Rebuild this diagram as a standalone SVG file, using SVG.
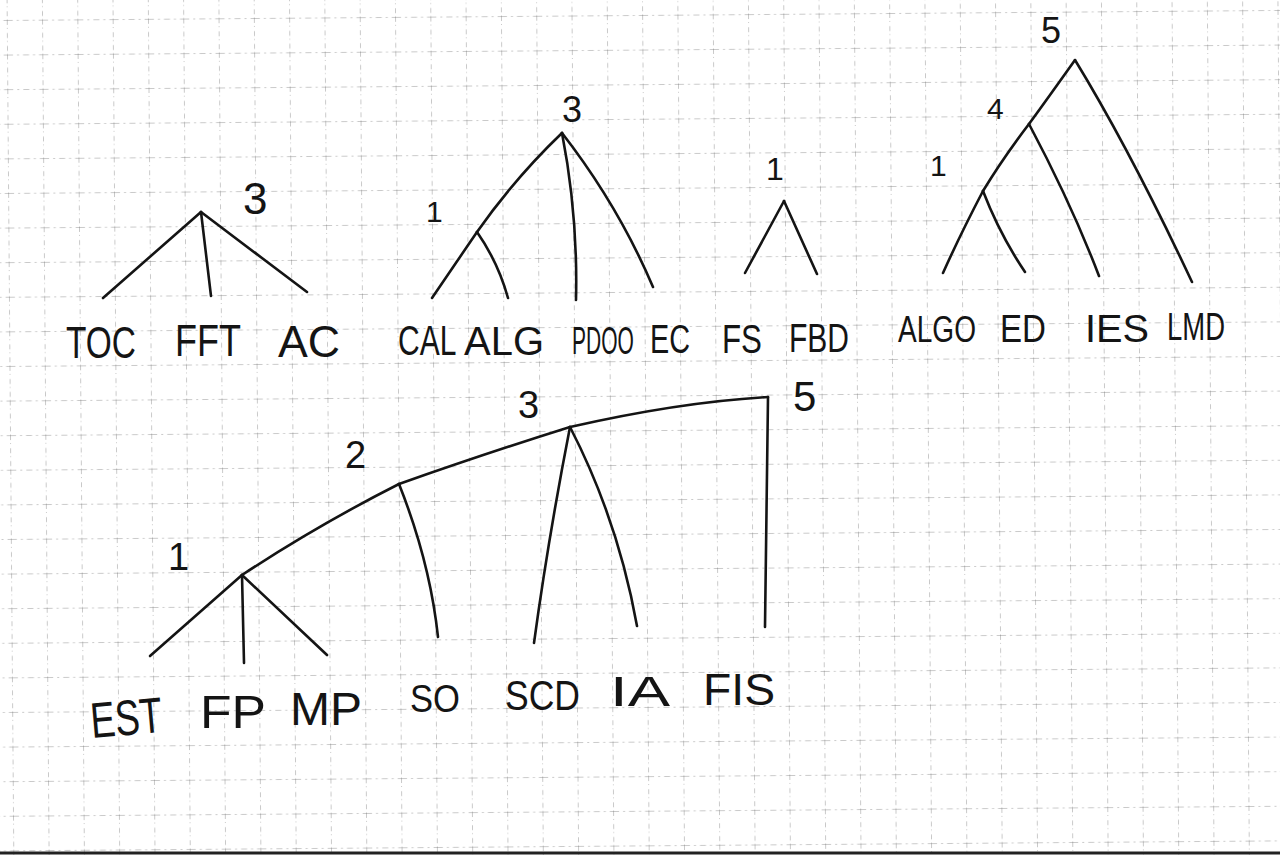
<svg xmlns="http://www.w3.org/2000/svg" width="1280" height="855" viewBox="0 0 1280 855">
  <defs>
    <pattern id="grid" patternUnits="userSpaceOnUse" x="10" y="15" width="35.3" height="34.6" patternTransform="rotate(-0.45 640 430)">
      <line x1="0" y1="0" x2="35.3" y2="0" stroke="#6e6e6e" stroke-width="1" stroke-dasharray="6 4 2 4" opacity="0.75"/>
      <line x1="0" y1="0" x2="0" y2="34.6" stroke="#6e6e6e" stroke-width="1" stroke-dasharray="5 3 1 4" opacity="0.75"/>
    </pattern>
    <style>
      .lbl { font-family: "Liberation Sans", "DejaVu Sans", sans-serif; fill: #141414; }
      .num { font-family: "Liberation Sans", "DejaVu Sans", sans-serif; fill: #141414; }
      .edge { fill: none; stroke: #141414; stroke-width: 2.6; stroke-linecap: round; stroke-linejoin: round; }
    </style>
  </defs>
  <rect width="1280" height="855" fill="#ffffff"/>
  <rect width="1280" height="855" fill="url(#grid)"/>
  <line x1="0" y1="853" x2="1280" y2="853" stroke="#222" stroke-width="3"/>

  <g id="connectors">
    <!-- tree 1 -->
    <path class="edge" d="M201 212 L103 298"/>
    <path class="edge" d="M201 212 L211 296"/>
    <path class="edge" d="M201 212 L307 292"/>
    <!-- tree 2 -->
    <path class="edge" d="M562 133 Q515 178 477 232"/>
    <path class="edge" d="M477 232 L432 298"/>
    <path class="edge" d="M477 232 Q498 262 508 298"/>
    <path class="edge" d="M562 133 Q578 215 576 300"/>
    <path class="edge" d="M562 133 Q618 205 653 287"/>
    <!-- tree 3 -->
    <path class="edge" d="M784 201 L745 273"/>
    <path class="edge" d="M784 201 L817 274"/>
    <!-- tree 4 -->
    <path class="edge" d="M1075 60 Q1048 98 1029 124"/>
    <path class="edge" d="M1029 124 Q1003 158 983 191"/>
    <path class="edge" d="M983 191 Q960 235 943 273"/>
    <path class="edge" d="M983 191 Q1000 235 1025 272"/>
    <path class="edge" d="M1029 124 Q1072 205 1099 276"/>
    <path class="edge" d="M1075 60 Q1130 150 1192 282"/>
    <!-- bottom tree -->
    <path class="edge" d="M242 575 L150 656"/>
    <path class="edge" d="M242 575 L244 663"/>
    <path class="edge" d="M242 575 L327 655"/>
    <path class="edge" d="M242 575 Q318 525 399 484"/>
    <path class="edge" d="M399 484 Q430 562 438 637"/>
    <path class="edge" d="M399 484 Q490 452 570 427"/>
    <path class="edge" d="M570 427 Q548 540 534 643"/>
    <path class="edge" d="M570 427 Q618 520 637 626"/>
    <path class="edge" d="M570 427 Q680 402 768 397"/>
    <path class="edge" d="M768 397 L765 627"/>
  </g>

  <g id="merge-tree1"><text class="num" x="243" y="214" font-size="44">3</text></g>
  <g id="merge-tree2-top"><text class="num" x="562" y="122" font-size="36">3</text></g>
  <g id="merge-tree2-sub"><text class="num" x="426" y="222" font-size="30">1</text></g>
  <g id="merge-tree3"><text class="num" x="766" y="180" font-size="32">1</text></g>
  <g id="merge-tree4-top"><text class="num" x="1041" y="43" font-size="36">5</text></g>
  <g id="merge-tree4-mid"><text class="num" x="987" y="119" font-size="30">4</text></g>
  <g id="merge-tree4-sub"><text class="num" x="930" y="176" font-size="30">1</text></g>
  <g id="merge-bottom-1"><text class="num" x="168" y="570" font-size="38">1</text></g>
  <g id="merge-bottom-2"><text class="num" x="345" y="468" font-size="38">2</text></g>
  <g id="merge-bottom-3"><text class="num" x="518" y="418" font-size="38">3</text></g>
  <g id="merge-bottom-5"><text class="num" x="793" y="411" font-size="42">5</text></g>

  <g id="leaf-TOC"><text class="lbl" x="66" y="358" font-size="44" textLength="70" lengthAdjust="spacingAndGlyphs">TOC</text></g>
  <g id="leaf-FFT"><text class="lbl" x="175" y="356" font-size="44" textLength="66" lengthAdjust="spacingAndGlyphs">FFT</text></g>
  <g id="leaf-AC"><text class="lbl" x="278" y="357" font-size="44" textLength="62" lengthAdjust="spacingAndGlyphs">AC</text></g>
  <g id="leaf-CAL"><text class="lbl" transform="translate(398 355) scale(1 1.4)" font-size="30">CAL</text></g>
  <g id="leaf-ALG"><text class="lbl" x="464" y="355" font-size="40" textLength="80" lengthAdjust="spacingAndGlyphs">ALG</text></g>
  <g id="leaf-PDOO"><text class="lbl" transform="translate(572 354) scale(1 1.85)" font-size="21">PDOO</text></g>
  <g id="leaf-EC"><text class="lbl" x="650" y="353" font-size="40" textLength="40" lengthAdjust="spacingAndGlyphs">EC</text></g>
  <g id="leaf-FS"><text class="lbl" x="722" y="353" font-size="40" textLength="40" lengthAdjust="spacingAndGlyphs">FS</text></g>
  <g id="leaf-FBD"><text class="lbl" x="789" y="352" font-size="40" textLength="60" lengthAdjust="spacingAndGlyphs">FBD</text></g>
  <g id="leaf-ALGO"><text class="lbl" x="898" y="342" font-size="36" textLength="78" lengthAdjust="spacingAndGlyphs">ALGO</text></g>
  <g id="leaf-ED"><text class="lbl" x="1000" y="342" font-size="38" textLength="46" lengthAdjust="spacingAndGlyphs">ED</text></g>
  <g id="leaf-IES"><text class="lbl" x="1085" y="342" font-size="38" textLength="64" lengthAdjust="spacingAndGlyphs">IES</text></g>
  <g id="leaf-LMD"><text class="lbl" x="1167" y="340" font-size="38" textLength="58" lengthAdjust="spacingAndGlyphs">LMD</text></g>

  <g id="leaf-EST"><text class="lbl" x="90" y="735" font-size="50" textLength="72" lengthAdjust="spacingAndGlyphs" transform="rotate(-5 126 715)">EST</text></g>
  <g id="leaf-FP"><text class="lbl" x="200" y="728" font-size="46" textLength="66" lengthAdjust="spacingAndGlyphs">FP</text></g>
  <g id="leaf-MP"><text class="lbl" x="290" y="725" font-size="46" textLength="72" lengthAdjust="spacingAndGlyphs">MP</text></g>
  <g id="leaf-SO"><text class="lbl" x="410" y="712" font-size="38" textLength="50" lengthAdjust="spacingAndGlyphs">SO</text></g>
  <g id="leaf-SCD"><text class="lbl" x="505" y="710" font-size="42" textLength="75" lengthAdjust="spacingAndGlyphs">SCD</text></g>
  <g id="leaf-IA"><text class="lbl" x="610" y="706" font-size="42" textLength="60" lengthAdjust="spacingAndGlyphs">IA</text></g>
  <g id="leaf-FIS"><text class="lbl" x="703" y="705" font-size="44" textLength="72" lengthAdjust="spacingAndGlyphs">FIS</text></g>
</svg>
